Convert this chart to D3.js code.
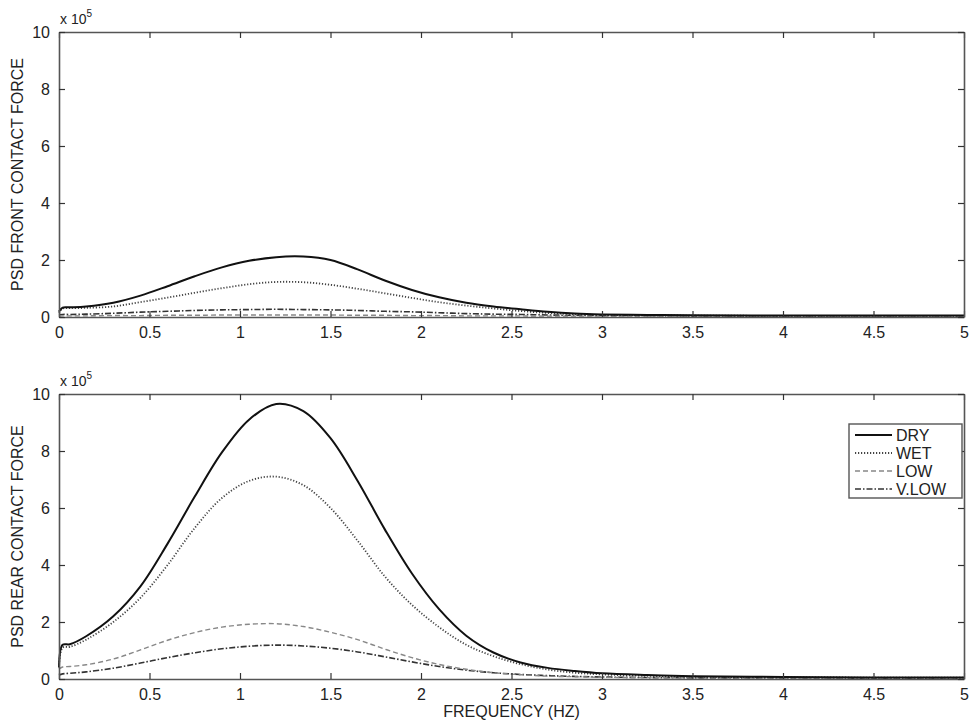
<!DOCTYPE html>
<html>
<head>
<meta charset="utf-8">
<script src="https://cdn.jsdelivr.net/npm/d3@7"></script>
<style>
  body { margin: 0; background: #fff; }
  text { font-family: "Liberation Sans", Arial, sans-serif; fill: #222; }
</style>
</head>
<body>
<script>
// Frequency grid (Hz), shared by all series
var freq = [0, 0.02, 0.06, 0.15, 0.3, 0.45, 0.6, 0.75, 0.9, 1.05, 1.2, 1.35, 1.5, 1.65,
  1.8, 1.95, 2.1, 2.25, 2.4, 2.55, 2.7, 2.85, 3, 3.25, 3.5, 4, 4.5, 5];

// Front contact force PSD (x 10^5)
var frontDry = [0.19, 0.33, 0.34, 0.37, 0.5, 0.75, 1.08, 1.43, 1.74, 1.97, 2.1, 2.12, 2.0, 1.67,
  1.28, 0.95, 0.69, 0.5, 0.37, 0.27, 0.18, 0.12, 0.09, 0.07, 0.06, 0.05, 0.05, 0.05];
var frontWet = [0.15, 0.3, 0.31, 0.32, 0.37, 0.52, 0.68, 0.85, 1.01, 1.15, 1.23, 1.22, 1.13, 0.99,
  0.83, 0.67, 0.52, 0.4, 0.3, 0.21, 0.14, 0.1, 0.07, 0.06, 0.05, 0.04, 0.04, 0.04];
var frontLow = [0.03, 0.04, 0.04, 0.04, 0.05, 0.05, 0.06, 0.06, 0.07, 0.07, 0.07, 0.07, 0.07, 0.06,
  0.06, 0.05, 0.05, 0.04, 0.04, 0.04, 0.03, 0.03, 0.03, 0.03, 0.03, 0.03, 0.03, 0.03];
var frontVLow = [0.08, 0.09, 0.09, 0.1, 0.13, 0.17, 0.2, 0.23, 0.25, 0.26, 0.27, 0.26, 0.25, 0.23,
  0.2, 0.18, 0.15, 0.12, 0.1, 0.09, 0.07, 0.06, 0.05, 0.05, 0.04, 0.04, 0.04, 0.04];

// Rear contact force PSD (x 10^5)
var rearDry = [0.4, 1.2, 1.22, 1.5, 2.2, 3.25, 4.75, 6.4, 7.95, 9.1, 9.65, 9.4, 8.45, 6.95,
  5.25, 3.7, 2.45, 1.52, 0.93, 0.58, 0.39, 0.28, 0.2, 0.14, 0.1, 0.07, 0.05, 0.05];
var rearWet = [0.5, 1.1, 1.13, 1.38, 2.0, 2.85, 4.0, 5.3, 6.35, 6.95, 7.1, 6.8, 6.0, 4.85,
  3.6, 2.6, 1.82, 1.2, 0.8, 0.52, 0.33, 0.22, 0.16, 0.11, 0.08, 0.06, 0.05, 0.05];
var rearLow = [0.35, 0.42, 0.44, 0.5, 0.7, 1.02, 1.36, 1.63, 1.82, 1.92, 1.94, 1.84, 1.64, 1.38,
  1.05, 0.75, 0.51, 0.34, 0.22, 0.15, 0.1, 0.08, 0.06, 0.05, 0.04, 0.03, 0.03, 0.03];
var rearVLow = [0.14, 0.18, 0.2, 0.25, 0.38, 0.56, 0.75, 0.92, 1.06, 1.15, 1.19, 1.16, 1.08, 0.95,
  0.78, 0.6, 0.44, 0.31, 0.22, 0.16, 0.12, 0.09, 0.07, 0.05, 0.04, 0.04, 0.03, 0.03];

var seriesNames = ["DRY", "WET", "LOW", "V.LOW"];
var xTicks = [0, 0.5, 1, 1.5, 2, 2.5, 3, 3.5, 4, 4.5, 5];
var yTicks = [0, 2, 4, 6, 8, 10];

var width = 969, height = 726;

var svg = d3.select("body").append("svg")
  .attr("width", width)
  .attr("height", height);

// line style per series
var styles = {
  "DRY":   { stroke: "#111", width: 2, dash: null },
  "WET":   { stroke: "#444", width: 1.8, dash: "1.2,1.8" },
  "LOW":   { stroke: "#888", width: 1.4, dash: "5,3" },
  "V.LOW": { stroke: "#333", width: 1.6, dash: "6,2,1.5,2" }
};

var x = d3.scaleLinear().domain([0, 5]).range([59, 964]);

function drawPanel(top, bottom, label, data, withLegend, withXLabel) {
  var y = d3.scaleLinear().domain([0, 10]).range([bottom, top]);
  var g = svg.append("g");

  var line = d3.line()
    .x(function(d) { return x(d[0]); })
    .y(function(d) { return y(d[1]); })
    .curve(d3.curveCatmullRom.alpha(0.5));

  // curves
  seriesNames.slice().reverse().forEach(function(name) {
    var vals = data[name];
    var pts = freq.map(function(f, i) { return [f, vals[i]]; });
    var s = styles[name];
    g.append("path")
      .datum(pts)
      .attr("fill", "none")
      .attr("stroke", s.stroke)
      .attr("stroke-width", s.width)
      .attr("stroke-dasharray", s.dash)
      .attr("d", line);
  });

  // axes, matlab style: ticks inside, mirrored
  var xAxisB = d3.axisBottom(x).tickValues(xTicks).tickSizeInner(-6).tickSizeOuter(0).tickPadding(10)
    .tickFormat(function(d) { return d3.format("")(d); });
  var xAxisT = d3.axisTop(x).tickValues(xTicks).tickSizeInner(-6).tickSizeOuter(0).tickFormat("");
  var yAxisL = d3.axisLeft(y).tickValues(yTicks).tickSizeInner(-6).tickSizeOuter(0).tickPadding(9);
  var yAxisR = d3.axisRight(y).tickValues(yTicks).tickSizeInner(-6).tickSizeOuter(0).tickFormat("");

  var axes = [
    g.append("g").attr("transform", "translate(0," + bottom + ")").call(xAxisB),
    g.append("g").attr("transform", "translate(0," + top + ")").call(xAxisT),
    g.append("g").attr("transform", "translate(" + x(0) + ",0)").call(yAxisL),
    g.append("g").attr("transform", "translate(" + x(5) + ",0)").call(yAxisR)
  ];
  axes.forEach(function(a) {
    a.select(".domain").attr("stroke", "#555").attr("stroke-width", 1.6);
    a.selectAll(".tick line").attr("stroke", "#333").attr("stroke-width", 1.2);
    a.selectAll(".tick text").style("font-size", "16px")
      .style("font-family", "'Liberation Sans', Arial, sans-serif").attr("fill", "#222");
  });

  // exponent label
  var ex = g.append("text")
    .attr("x", 60)
    .attr("y", top - 8)
    .style("font-size", "14px");
  ex.append("tspan").text("x 10");
  ex.append("tspan").attr("dy", -7).style("font-size", "10px").text("5");

  // y label
  g.append("text")
    .attr("transform", "translate(23," + ((top + bottom) / 2) + ") rotate(-90)")
    .attr("text-anchor", "middle")
    .style("font-size", "16px")
    .text(label);

  if (withXLabel) {
    g.append("text")
      .attr("x", x(2.5))
      .attr("y", bottom + 38)
      .attr("text-anchor", "middle")
      .style("font-size", "16px")
      .text("FREQUENCY (HZ)");
  }

  if (withLegend) {
    var lx = 849, ly = 424, lw = 113, rowH = 18;
    var lg = g.append("g");
    lg.append("rect")
      .attr("x", lx).attr("y", ly)
      .attr("width", lw).attr("height", rowH * 4 + 2)
      .attr("fill", "#fff")
      .attr("stroke", "#555")
      .attr("stroke-width", 1.4);
    seriesNames.forEach(function(name, i) {
      var cy = ly + 11 + i * rowH;
      var s = styles[name];
      lg.append("line")
        .attr("x1", lx + 6).attr("x2", lx + 43)
        .attr("y1", cy).attr("y2", cy)
        .attr("stroke", s.stroke)
        .attr("stroke-width", s.width)
        .attr("stroke-dasharray", s.dash);
      lg.append("text")
        .attr("x", lx + 47)
        .attr("y", cy + 6)
        .style("font-size", "16px")
        .text(name);
    });
  }
}

drawPanel(32, 317, "PSD FRONT CONTACT FORCE",
  { "DRY": frontDry, "WET": frontWet, "LOW": frontLow, "V.LOW": frontVLow }, false, false);
drawPanel(394, 679, "PSD REAR CONTACT FORCE",
  { "DRY": rearDry, "WET": rearWet, "LOW": rearLow, "V.LOW": rearVLow }, true, true);
</script>
</body>
</html>
